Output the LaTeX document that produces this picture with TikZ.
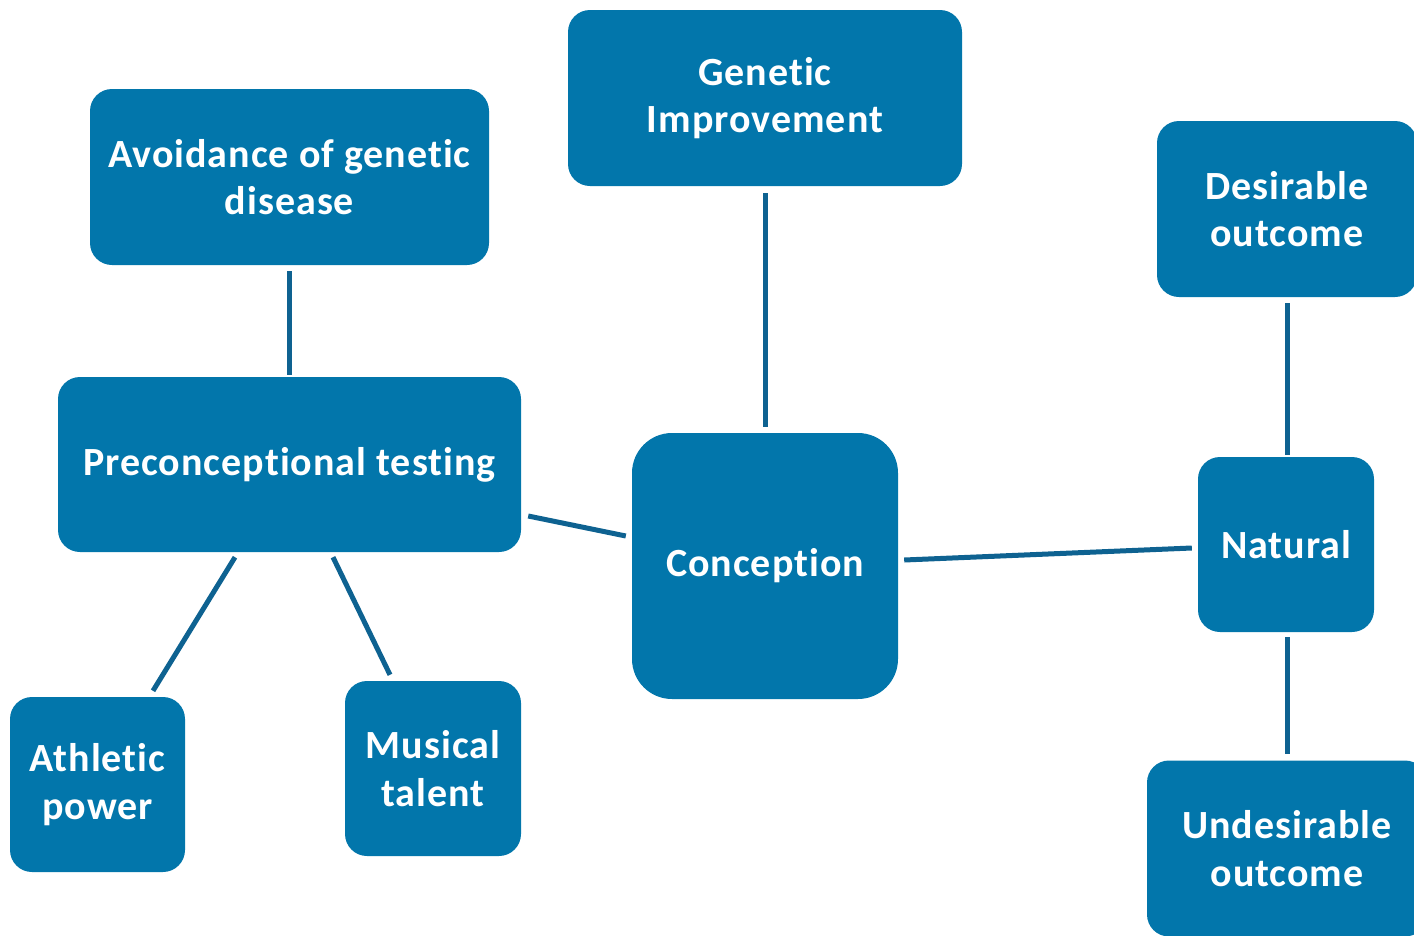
\documentclass[tikz,border=0pt]{standalone}
\usepackage{fontspec}
\setmainfont{Carlito}[Ligatures=NoCommon, LetterSpace=2.5]
\definecolor{boxblue}{RGB}{2,118,171}
\definecolor{lineblue}{RGB}{14,98,145}
\begin{document}
\begin{tikzpicture}[x=1pt,y=-1pt,
  box/.style={fill=boxblue, draw=none, rounded corners=22pt, inner sep=0pt,
    text=white, align=center, font=\fontsize{40}{47.5}\selectfont\bfseries},
  conn/.style={draw=lineblue, line width=5pt}]
\clip (0,0) rectangle (1414,935);
\useasboundingbox (0,0) rectangle (1414,935);
% boxes
\node[box, minimum width=399pt, minimum height=176pt] (avoid) at (289.5,177) {Avoidance of genetic\\disease};
\node[box, minimum width=394pt, minimum height=176pt] (genimp) at (765,98) {Genetic\\Improvement};
\node[box, minimum width=260pt, minimum height=176pt] (desir) at (1287,209) {Desirable\\outcome};
\node[box, minimum width=463pt, minimum height=175pt] (precon) at (289.5,464.5) {Preconceptional testing};
\node[box, rounded corners=40pt, minimum width=266pt, minimum height=266pt] (concep) at (765,566) {Conception};
\node[box, minimum width=176pt, minimum height=175pt] (natural) at (1286,544.5) {Natural};
\node[box, minimum width=175pt, minimum height=175pt] (athl) at (97.5,784.5) {Athletic\\power};
\node[box, minimum width=176pt, minimum height=175pt] (music) at (433,768.5) {Musical\\talent};
\node[box, minimum width=280pt, minimum height=176pt] (undes) at (1287,848.5) {Undesirable\\outcome};
% connectors
\draw[conn] ([yshift=-6pt]avoid.south) -- ([yshift=2pt]precon.north);
\draw[conn] ([yshift=-7pt]genimp.south) -- ([yshift=6pt]concep.north);
\draw[conn] ([yshift=-6pt]desir.south) -- ([xshift=1pt,yshift=2pt]natural.north);
\draw[conn] ([xshift=1pt,yshift=-5pt]natural.south) -- ([yshift=6pt]undes.north);
\draw[conn] ([xshift=7pt,yshift=-51.5pt]precon.east) -- ([xshift=-6pt,yshift=30pt]concep.west);
\draw[conn] ([xshift=6pt,yshift=6pt]concep.east) -- ([xshift=-6pt,yshift=-3.5pt]natural.west);
\draw[conn] ([xshift=-54.5pt,yshift=-5pt]precon.south) -- ([xshift=55.5pt,yshift=6pt]athl.north);
\draw[conn] ([xshift=43.5pt,yshift=-5pt]precon.south) -- ([xshift=-43pt,yshift=6pt]music.north);
\end{tikzpicture}
\end{document}
